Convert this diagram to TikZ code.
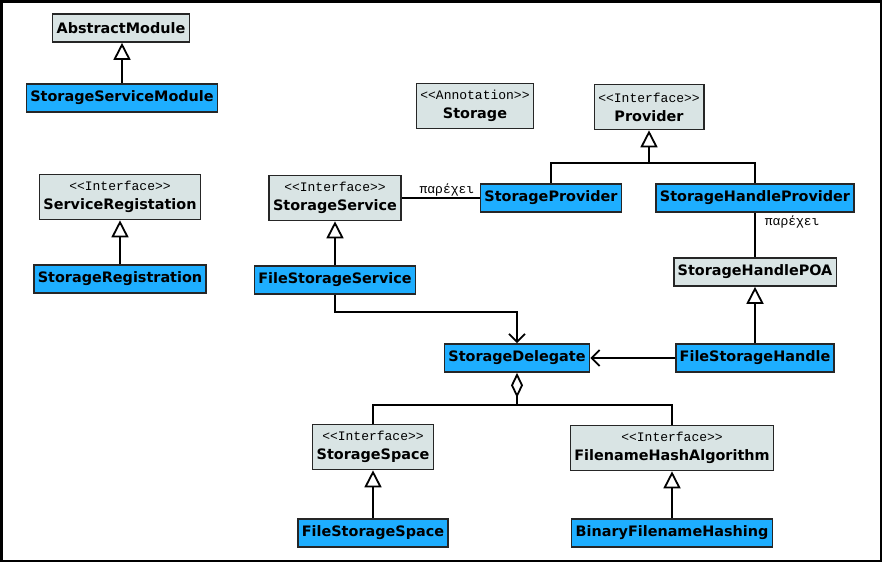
\documentclass[tikz,border=0pt]{standalone}
\usepackage{fontspec}
\setmainfont{DejaVu Sans}
\setmonofont{Liberation Mono}
\usetikzlibrary{arrows.meta}
\definecolor{clsblue}{RGB}{30,174,255}
\definecolor{ifcgray}{RGB}{217,228,228}
\newcommand{\stereo}[2]{{\ttfamily\mdseries\fontsize{13}{13}\selectfont <<#1>>}\\[2pt]#2}
\tikzset{
  cls/.style={draw=black!85, line width=1.6pt, font=\bfseries\fontsize{14.4}{17}\selectfont,
    inner xsep=4pt, inner ysep=2pt, minimum height=28pt, align=center},
  impl/.style={cls, fill=clsblue},
  iface/.style={cls, fill=ifcgray},
  ifacetwo/.style={iface, minimum height=45pt},
  gen/.style={-{Triangle[open,fill=white,length=17pt,width=17pt]}},
  assoc/.style={-{Straight Barb[length=8pt,width=16pt]}},
  agg/.style={{Diamond[open,fill=white,length=25pt,width=12pt]}-},
  rel/.style={font=\ttfamily\fontsize{13}{13}\selectfont, inner sep=1pt}
}
\begin{document}
\begin{tikzpicture}[x=1pt, y=-1pt, line width=1.8pt]
    \useasboundingbox (0,0) rectangle (882,562);
    \draw[line width=2.5pt] (1.25,1.25) rectangle (880.75,560.75);
    % classes
    \node[iface] (am) at (121, 28) {AbstractModule};
    \node[impl] (ssm) at (122, 98) {StorageServiceModule};
    \node[ifacetwo] (sr) at (120, 197) {\stereo{Interface}{ServiceRegistation}};
    \node[impl] (srg) at (120, 279) {StorageRegistration};
    \node[ifacetwo] (st) at (475, 106) {\stereo{Annotation}{Storage}};
    \node[ifacetwo] (prov) at (649, 107) {\stereo{Interface}{Provider}};
    \node[ifacetwo] (ss) at (335, 198) {\stereo{Interface}{StorageService}};
    \node[impl] (sp) at (551, 198) {StorageProvider};
    \node[impl] (shp) at (755, 198) {StorageHandleProvider};
    \node[impl] (fss) at (335, 280) {FileStorageService};
    \node[iface] (poa) at (755, 272) {StorageHandlePOA};
    \node[impl] (del) at (517, 358) {StorageDelegate};
    \node[impl] (fsh) at (755, 358) {FileStorageHandle};
    \node[ifacetwo] (ssp) at (373, 447) {\stereo{Interface}{StorageSpace}};
    \node[ifacetwo] (fha) at (672, 448) {\stereo{Interface}{FilenameHashAlgorithm}};
    \node[impl] (fsp) at (373, 533) {FileStorageSpace};
    \node[impl] (bfh) at (672, 533) {BinaryFilenameHashing};
    \coordinate (pj) at (649, 163);
    \coordinate (aj) at (517, 405);
    % generalisations
    \draw[gen] (ssm.north) -- (ssm.north |- am.south);
    \draw[gen] (srg.north) -- (srg.north |- sr.south);
    \draw[gen] (fss.north) -- (fss.north |- ss.south);
    \draw[gen] (fsh.north) -- (fsh.north |- poa.south);
    \draw[gen] (fsp.north) -- (fsp.north |- ssp.south);
    \draw[gen] (bfh.north) -- (bfh.north |- fha.south);
    \draw (sp.north) |- (pj) -| (shp.north);
    \draw[gen] (pj) -- (prov.south);
    % associations
    \draw (ss.east |- sp.west) -- node[rel, above, pos=0.58] {παρέχει} (sp.west);
    \draw (shp.south) -- node[rel, right, pos=0.2, xshift=8pt] {παρέχει} (poa.north);
    \draw[assoc] (fss.south) -- ++(0,17) -| (del.north);
    \draw[assoc] (fsh.west) -- (del.east);
    \draw[agg] (del.south) -- (aj);
    \draw (ssp.north) |- (aj) -| (fha.north);
\end{tikzpicture}
\end{document}
